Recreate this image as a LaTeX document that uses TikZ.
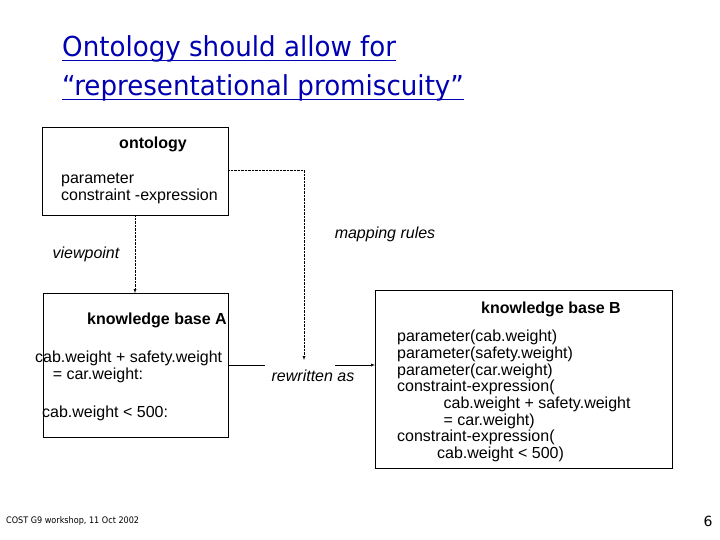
\documentclass[tikz,border=0pt]{standalone}
\usepackage{fontspec}
\setmainfont{Liberation Sans}
\newfontfamily\tahoma{DejaVu Sans}
\begin{document}
\begin{tikzpicture}[x=1pt,y=-1pt,
  box/.style={draw,thin,inner sep=0},
  lbl/.style={font=\fontsize{16}{16.7}\selectfont,inner sep=0},
  ttl/.style={anchor=base west,inner sep=0,text=blue!70!black,font=\tahoma\fontsize{27.5}{29}\selectfont},
  uln/.style={blue!70!black,line width=1pt},
  dot/.style={densely dotted,thin},
  tip/.style={-latex}]
\useasboundingbox (0,0) rectangle (720,540);
\node[ttl,xscale=0.95] (ti1) at (62,57) {Ontology should allow for};
\node[ttl,xscale=0.95] (ti2) at (62,96) {“representational promiscuity”};
\draw[uln] ([yshift=-4]ti1.base west) -- ([yshift=-4]ti1.base east);
\draw[uln] ([yshift=-4]ti2.base west) -- ([yshift=-4]ti2.base east);
\node[box,minimum width=186,minimum height=88,anchor=north west] (ont) at (42,127) {};
\node[box,minimum width=185,minimum height=144,anchor=north west] (kba) at (43,293) {};
\node[box,minimum width=297,minimum height=178,anchor=north west] (kbb) at (375,290) {};
\node[lbl,font=\bfseries\fontsize{16}{16.7}\selectfont] (t1) at (153,144) {ontology};
\node[lbl,anchor=north west,align=left] (t2) at (61,173) {parameter\\ constraint -expression};
\node[lbl,font=\itshape\fontsize{16}{16.7}\selectfont] (t3) at (385,234) {mapping rules};
\node[lbl,font=\itshape\fontsize{16}{16.7}\selectfont] (t4) at (86,254) {viewpoint};
\node[lbl,font=\bfseries\fontsize{16}{16.7}\selectfont] (t5) at (157,320) {knowledge base A};
\node[lbl,anchor=north west,align=left] (t6) at (35,351) {cab.weight + safety.weight\\ \hspace*{1.1em}= car.weight:};
\node[lbl,anchor=west] (t7) at (42,413) {cab.weight < 500:};
\node[lbl,font=\itshape\fontsize{16}{16.7}\selectfont] (rw) at (313,376) {rewritten as};
\node[lbl,font=\bfseries\fontsize{16}{16.7}\selectfont] (t8) at (551,309) {knowledge base B};
\node[lbl,anchor=north west,align=left] (t9) at (397,330) {parameter(cab.weight)\\ parameter(safety.weight)\\ parameter(car.weight)\\ constraint-expression(\\ \hspace*{2.9em}cab.weight + safety.weight\\ \hspace*{2.9em}= car.weight)\\ constraint-expression(\\ \hspace*{2.5em}cab.weight < 500)};
\node[anchor=west,inner sep=0,font=\tahoma\fontsize{9}{10}\selectfont,xscale=0.9] (foot) at (6,521) {COST G9 workshop, 11 Oct 2002};
\node[inner sep=0,font=\tahoma\fontsize{14}{15}\selectfont] (pg) at (708,521) {6};
\coordinate (c1) at (228,170);
\coordinate (c2) at (304,170);
\coordinate (c3) at (304,360);
\coordinate (d1) at (135,215);
\coordinate (d2) at (135,293);
\coordinate (e1) at (228,365);
\coordinate (e2) at (265,365);
\coordinate (e3) at (335,365);
\coordinate (e4) at (375,365);
\draw[dot,tip] (c1) -- (c2) -- (c3);
\draw[dot,tip] (d1) -- (d2);
\draw[thin] (e1) -- (e2);
\draw[thin,tip] (e3) -- (e4);
\end{tikzpicture}
\end{document}
